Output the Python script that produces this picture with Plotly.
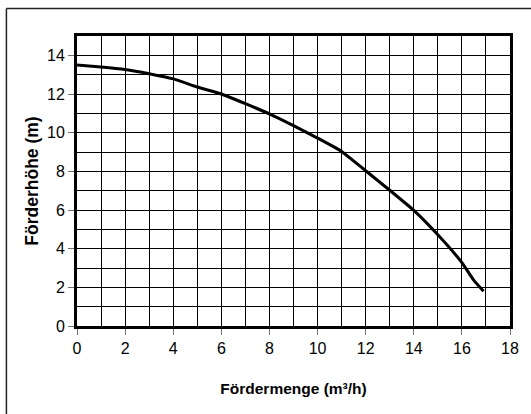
import plotly.graph_objects as go

# Data
flow_m3h = [0, 1, 2, 3, 4, 5, 6, 7, 8, 9, 10, 11, 12, 13, 14, 15, 16, 16.5, 16.9]
head_m = [13.5, 13.4, 13.27, 13.05, 12.78, 12.36, 12.0, 11.5, 10.97, 10.36, 9.72, 9.03, 8.03, 7.02, 5.98, 4.72, 3.28, 2.36, 1.8]

x_tick_vals = [0, 2, 4, 6, 8, 10, 12, 14, 16, 18]
y_tick_vals = [0, 2, 4, 6, 8, 10, 12, 14]

FONT = "Liberation Sans, Arial, sans-serif"

fig = go.Figure()
fig.add_trace(go.Scatter(
    x=flow_m3h, y=head_m, mode="lines",
    line=dict(color="black", width=3, shape="spline", smoothing=0.5),
    showlegend=False, hoverinfo="x+y",
))

axis_common = dict(
    showline=True, linecolor="black", linewidth=3, mirror=True,
    showgrid=True, gridcolor="black", gridwidth=1,
    ticks="outside", ticklen=6, tickcolor="#707070", tickwidth=1,
    zeroline=False,
    tickfont=dict(family=FONT, size=16, color="black"),
)

fig.update_xaxes(
    range=[0, 18], tickvals=x_tick_vals,
    minor=dict(dtick=1, showgrid=True, gridcolor="black", gridwidth=1, ticks=""),
    title=dict(text="<b>Fördermenge (m³/h)</b>", font=dict(family=FONT, size=15.5, color="black"), standoff=27),
    **axis_common,
)
fig.update_yaxes(
    range=[0, 15], tickvals=y_tick_vals,
    minor=dict(dtick=1, showgrid=True, gridcolor="black", gridwidth=1, ticks=""),
    title=dict(text="<b>Förderhöhe (m)</b>", font=dict(family=FONT, size=17.5, color="black"), standoff=4),
    **axis_common,
)

# outer frame: left edge and top edge (both run off the visible page)
fig.add_shape(type="line", xref="paper", yref="paper",
              x0=-0.163, y0=-0.5, x1=-0.163, y1=1.095,
              line=dict(color="#222", width=1.5), layer="below")
fig.add_shape(type="line", xref="paper", yref="paper",
              x0=-0.163, y0=1.095, x1=1.1, y1=1.095,
              line=dict(color="#222", width=1.5), layer="below")

fig.update_layout(
    width=531, height=414,
    margin=dict(l=77, r=14, t=36, b=88),
    paper_bgcolor="white", plot_bgcolor="white",
    font=dict(family=FONT, color="black"),
)

fig.write_html("out.html", config={"displayModeBar": False},
               post_script="document.body.style.margin='0';document.body.style.overflow='hidden';")
